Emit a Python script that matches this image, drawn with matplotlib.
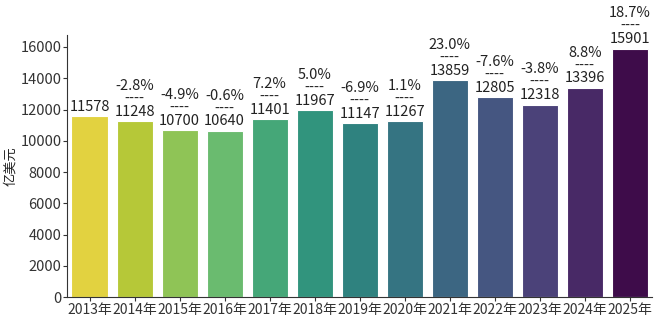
import matplotlib
matplotlib.use("Agg")
import matplotlib.pyplot as plt
import numpy as np
import colorsys

years = ["2013年", "2014年", "2015年", "2016年", "2017年", "2018年", "2019年",
         "2020年", "2021年", "2022年", "2023年", "2024年", "2025年"]
values = [11578, 11248, 10700, 10640, 11401, 11967, 11147, 11267, 13859, 12805, 12318, 13396, 15901]
pct_labels = ["", "-2.8%", "-4.9%", "-0.6%", "7.2%", "5.0%", "-6.9%", "1.1%",
              "23.0%", "-7.6%", "-3.8%", "8.8%", "18.7%"]

plt.rcParams['font.family'] = ['Noto Sans CJK SC', 'DejaVu Sans']

def desat(c, s=0.75):
    h, l, sat = colorsys.rgb_to_hls(*c[:3])
    return colorsys.hls_to_rgb(h, l, sat * s)

cmap = plt.get_cmap("viridis_r")
colors = [desat(cmap(i / (len(values) - 1))) for i in range(len(values))]

fig = plt.figure(figsize=(6.6, 3.24), dpi=100)
ax = fig.add_axes([0.1015, 0.083, 0.887, 0.809])
x = np.arange(len(values))
ax.bar(x, values, width=0.8, color=colors, edgecolor='white', linewidth=0.8)

for xi, v, p in zip(x, values, pct_labels):
    txt = f"{p}\n----\n{v}" if p else f"{v}"
    ax.text(xi, v + 150, txt, ha='center', va='bottom', fontsize=10.5,
            color='#222222', linespacing=0.9)

ax.set_xticks(x)
ax.set_xticklabels(years, fontsize=10, color='#222222')
ax.set_yticks(np.arange(0, 16001, 2000))
ax.tick_params(axis='y', labelsize=10.5, labelcolor='#222222', pad=1)
ax.tick_params(axis='x', pad=1.5)
ax.set_xlim(-0.5, len(values) - 0.5)
ax.set_ylim(0, 16768)
ax.set_ylabel("亿美元", fontsize=9.5, color='#222222', labelpad=2)
ax.spines['top'].set_visible(False)
ax.spines['right'].set_visible(False)
for s in ['left', 'bottom']:
    ax.spines[s].set_color('#333333')
ax.tick_params(colors='#333333', length=3)

fig.savefig("out.png", dpi=100)
